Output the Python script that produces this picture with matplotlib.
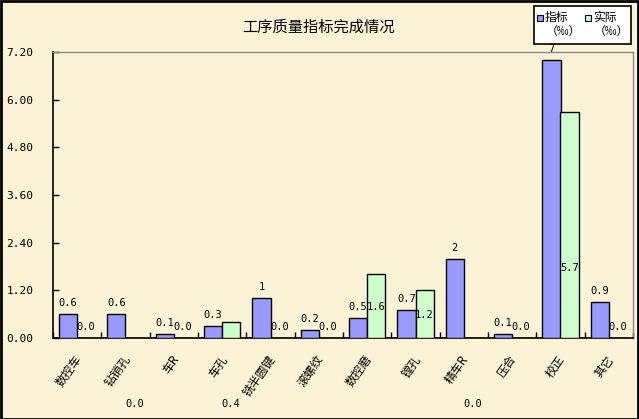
import matplotlib
matplotlib.use("Agg")
import matplotlib.pyplot as plt
import numpy as np
from matplotlib.patches import Rectangle

plt.rcParams['font.family'] = ['Noto Sans CJK SC', 'DejaVu Sans']

categories = ['数控车', '钻销孔', '车R', '车孔', '铣半圆键', '滚螺纹', '数控磨', '镗孔', '精车R', '压合', '校正', '其它']
target = [0.6, 0.6, 0.1, 0.3, 1, 0.2, 0.5, 0.7, 2, 0.1, 7, 0.9]
actual = [0.0, 0.0, 0.0, 0.4, 0.0, 0.0, 1.6, 1.2, 0.0, 0.0, 5.7, 0.0]
target_labels = ['0.6', '0.6', '0.1', '0.3', '1', '0.2', '0.5', '0.7', '2', '0.1', '7', '0.9']
actual_labels = ['0.0', '0.0', '0.0', '0.4', '0.0', '0.0', '1.6', '1.2', '0.0', '0.0', '5.7', '0.0']
yticks = [0.0, 1.2, 2.4, 3.6, 4.8, 6.0, 7.2]
series_names = ['指标', '实际']
unit = '（‰）'
title = '工序质量指标完成情况'

# label placement quirks of the original (pixel offset from baseline)
actual_label_override = {1: -66, 3: -66, 8: -66, 6: 31, 7: 23, 10: 70}

BG = '#FBF3D6'
BLUE = '#9999FF'
GREEN = '#CCFFCC'
MONO = 'DejaVu Sans Mono'

W, H = 639, 419
fig = plt.figure(figsize=(W / 100, H / 100), dpi=100, facecolor=BG)
ax = fig.add_axes([53 / W, (H - 338) / H, (633 - 53) / W, (338 - 52) / H], facecolor=BG)


def fx(px):
    return px / W


def fy(py):
    return 1 - py / H


x = np.arange(len(categories))
bw = 0.375
colors = [BLUE, GREEN]
ax.bar(x - bw / 2, target, bw, color=BLUE, edgecolor='black', linewidth=1, zorder=3)
ax.bar(x + bw / 2, actual, bw, color=GREEN, edgecolor='black', linewidth=1, zorder=3)

ax.set_xlim(-0.5, len(categories) - 0.5)
ax.set_ylim(0, 7.2)
ax.set_yticks(yticks)
ax.set_yticklabels([f'{v:.2f}' for v in yticks], family=MONO, fontsize=8)
ax.tick_params(axis='y', direction='in', length=4, pad=14, width=1, colors='black')
ax.set_xticks(np.arange(len(categories) + 1) - 0.5)
ax.set_xticklabels([])
ax.tick_params(axis='x', direction='in', length=4, width=1)

for s in ['left', 'bottom']:
    ax.spines[s].set_color('black')
    ax.spines[s].set_linewidth(1.2)
for s in ['top', 'right']:
    ax.spines[s].set_color('#8a8a8a')
    ax.spines[s].set_linewidth(1)

for i, (v, lab) in enumerate(zip(target, target_labels)):
    ax.annotate(lab, xy=(x[i] - bw / 2, v), xytext=(0, 11), textcoords='offset pixels',
                ha='center', va='center', family=MONO, fontsize=7.5, zorder=5)
for i, (v, lab) in enumerate(zip(actual, actual_labels)):
    if i in actual_label_override:
        xy = (x[i] + bw / 2, 0)
        off = actual_label_override[i]
    else:
        xy = (x[i] + bw / 2, v)
        off = 11
    ax.annotate(lab, xy=xy, xytext=(0, off), textcoords='offset pixels',
                ha='center', va='center', family=MONO, fontsize=7.5, zorder=5,
                annotation_clip=False)

for i, c in enumerate(categories):
    ax.annotate(c, xy=(x[i], 0), xytext=(-3, -15), textcoords='offset pixels',
                rotation=55, ha='right', va='top', rotation_mode='anchor',
                fontsize=8.5, annotation_clip=False)

fig.text(fx(318), fy(27), title, ha='center', va='center', fontsize=11)

# legend box (drawn like the original: square on first line, unit below)
fig.patches.append(Rectangle((fx(533.5), fy(44)), fx(630.5) - fx(533.5), fy(6.5) - fy(44),
                             transform=fig.transFigure, facecolor='white',
                             edgecolor='black', linewidth=1.2, zorder=1))
for k, (name, col) in enumerate(zip(series_names, colors)):
    sx = 537 + k * 48
    fig.patches.append(Rectangle((fx(sx), fy(21)), fx(6), 6 / H,
                                 transform=fig.transFigure, facecolor=col,
                                 edgecolor='black', linewidth=0.8, zorder=2))
    fig.text(fx(sx + 8), fy(18), name, ha='left', va='center', fontsize=8.5, zorder=3)
    fig.text(fx(sx + 9), fy(31.5), unit, ha='left', va='center', fontsize=8.5, zorder=3)

fig.patches.append(Rectangle((0.5 / W, 0.5 / H), 1 - 1.5 / W, 1 - 1.5 / H,
                             transform=fig.transFigure, fill=False,
                             edgecolor='black', linewidth=2))

fig.savefig('out.png', dpi=100, facecolor=BG)
